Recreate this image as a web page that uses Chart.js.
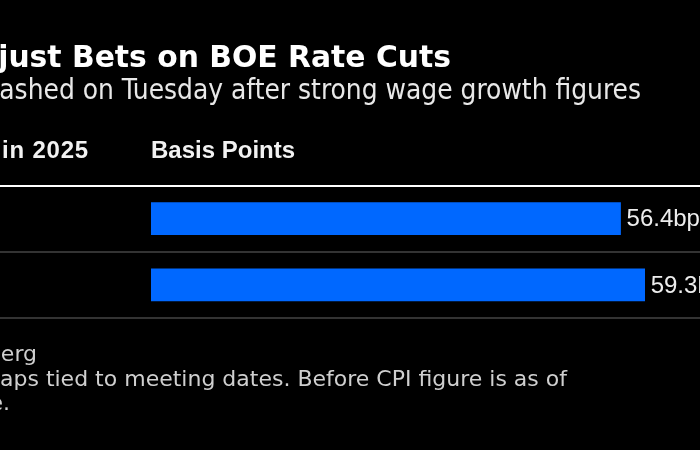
<!DOCTYPE html>
<html>
<head>
<meta charset="utf-8">
<script src="https://cdn.jsdelivr.net/npm/chart.js@4"></script>
<style>
  html, body { margin: 0; padding: 0; background: #000; }
  #wrap { position: relative; width: 700px; height: 450px; overflow: hidden; background: #000; }
  #wrap canvas { position: absolute; left: 0; top: 0; }
  .txt { position: absolute; white-space: nowrap; line-height: 1; }
  .title { font: bold 29.8px "DejaVu Sans"; color: #fff; right: 249px; top: 39px; }
  .subtitle { font-family: "DejaVu Sans Condensed", "DejaVu Sans"; font-stretch: condensed; font-size: 27.8px; color: #e8e8e8; right: 59px; top: 76px; }
  .head { font: bold 24px "Liberation Sans", Arial, sans-serif; color: #f2f2f2; top: 136px; }
  .note { font-family: "DejaVu Sans"; font-size: 22px; color: #cfcfcf; }
</style>
</head>
<body>
<div id="wrap">
  <canvas id="chart" width="700" height="450"></canvas>
  <div class="txt title">just Bets on BOE Rate Cuts</div>
  <div class="txt subtitle">ashed on Tuesday after strong wage growth figures</div>
  <div class="txt head" style="right: 611px; letter-spacing: 0.8px;">in 2025</div>
  <div class="txt head" style="left: 151px;">Basis Points</div>
  <div class="txt note" style="right: 663px; top: 343px;">berg</div>
  <div class="txt note" style="right: 133px; top: 368px;">aps tied to meeting dates. Before CPI figure is as of</div>
  <div class="txt note" style="right: 690px; top: 392px;">e.</div>
</div>
<script>
// data
const categories = ["Before CPI", "Now"];
const cutValues = [56.4, 59.3];
const unit = "bp";

// x range chosen so zero lines up under the "Basis Points" header
const xMin = -18.19;
const xMax = 65.95;

const valueLabels = {
  id: "valueLabels",
  afterDatasetsDraw(chart) {
    const ctx = chart.ctx;
    const meta = chart.getDatasetMeta(0);
    ctx.save();
    ctx.font = '24px "Liberation Sans", Arial, sans-serif';
    ctx.fillStyle = "#ededed";
    ctx.textAlign = "left";
    ctx.textBaseline = "middle";
    meta.data.forEach((bar, i) => {
      ctx.fillText(cutValues[i].toFixed(1) + unit, bar.x + 6, bar.y + 1);
    });
    ctx.restore();
  }
};

new Chart(document.getElementById("chart"), {
  type: "bar",
  data: {
    labels: categories,
    datasets: [{
      data: cutValues,
      backgroundColor: "#0068ff",
      borderWidth: 0,
      barThickness: 32
    }]
  },
  options: {
    indexAxis: "y",
    responsive: false,
    animation: false,
    layout: { padding: { top: 185.5, bottom: 132, left: 0, right: 0 } },
    plugins: {
      legend: { display: false },
      tooltip: { enabled: false }
    },
    scales: {
      x: { display: false, min: xMin, max: xMax },
      y: {
        ticks: { display: false },
        border: { display: false },
        grid: {
          offset: true,
          drawTicks: false,
          color: ctx => ctx.index === 0 ? "#ffffff" : "#333333",
          lineWidth: 2
        }
      }
    }
  },
  plugins: [valueLabels]
});
</script>
</body>
</html>
